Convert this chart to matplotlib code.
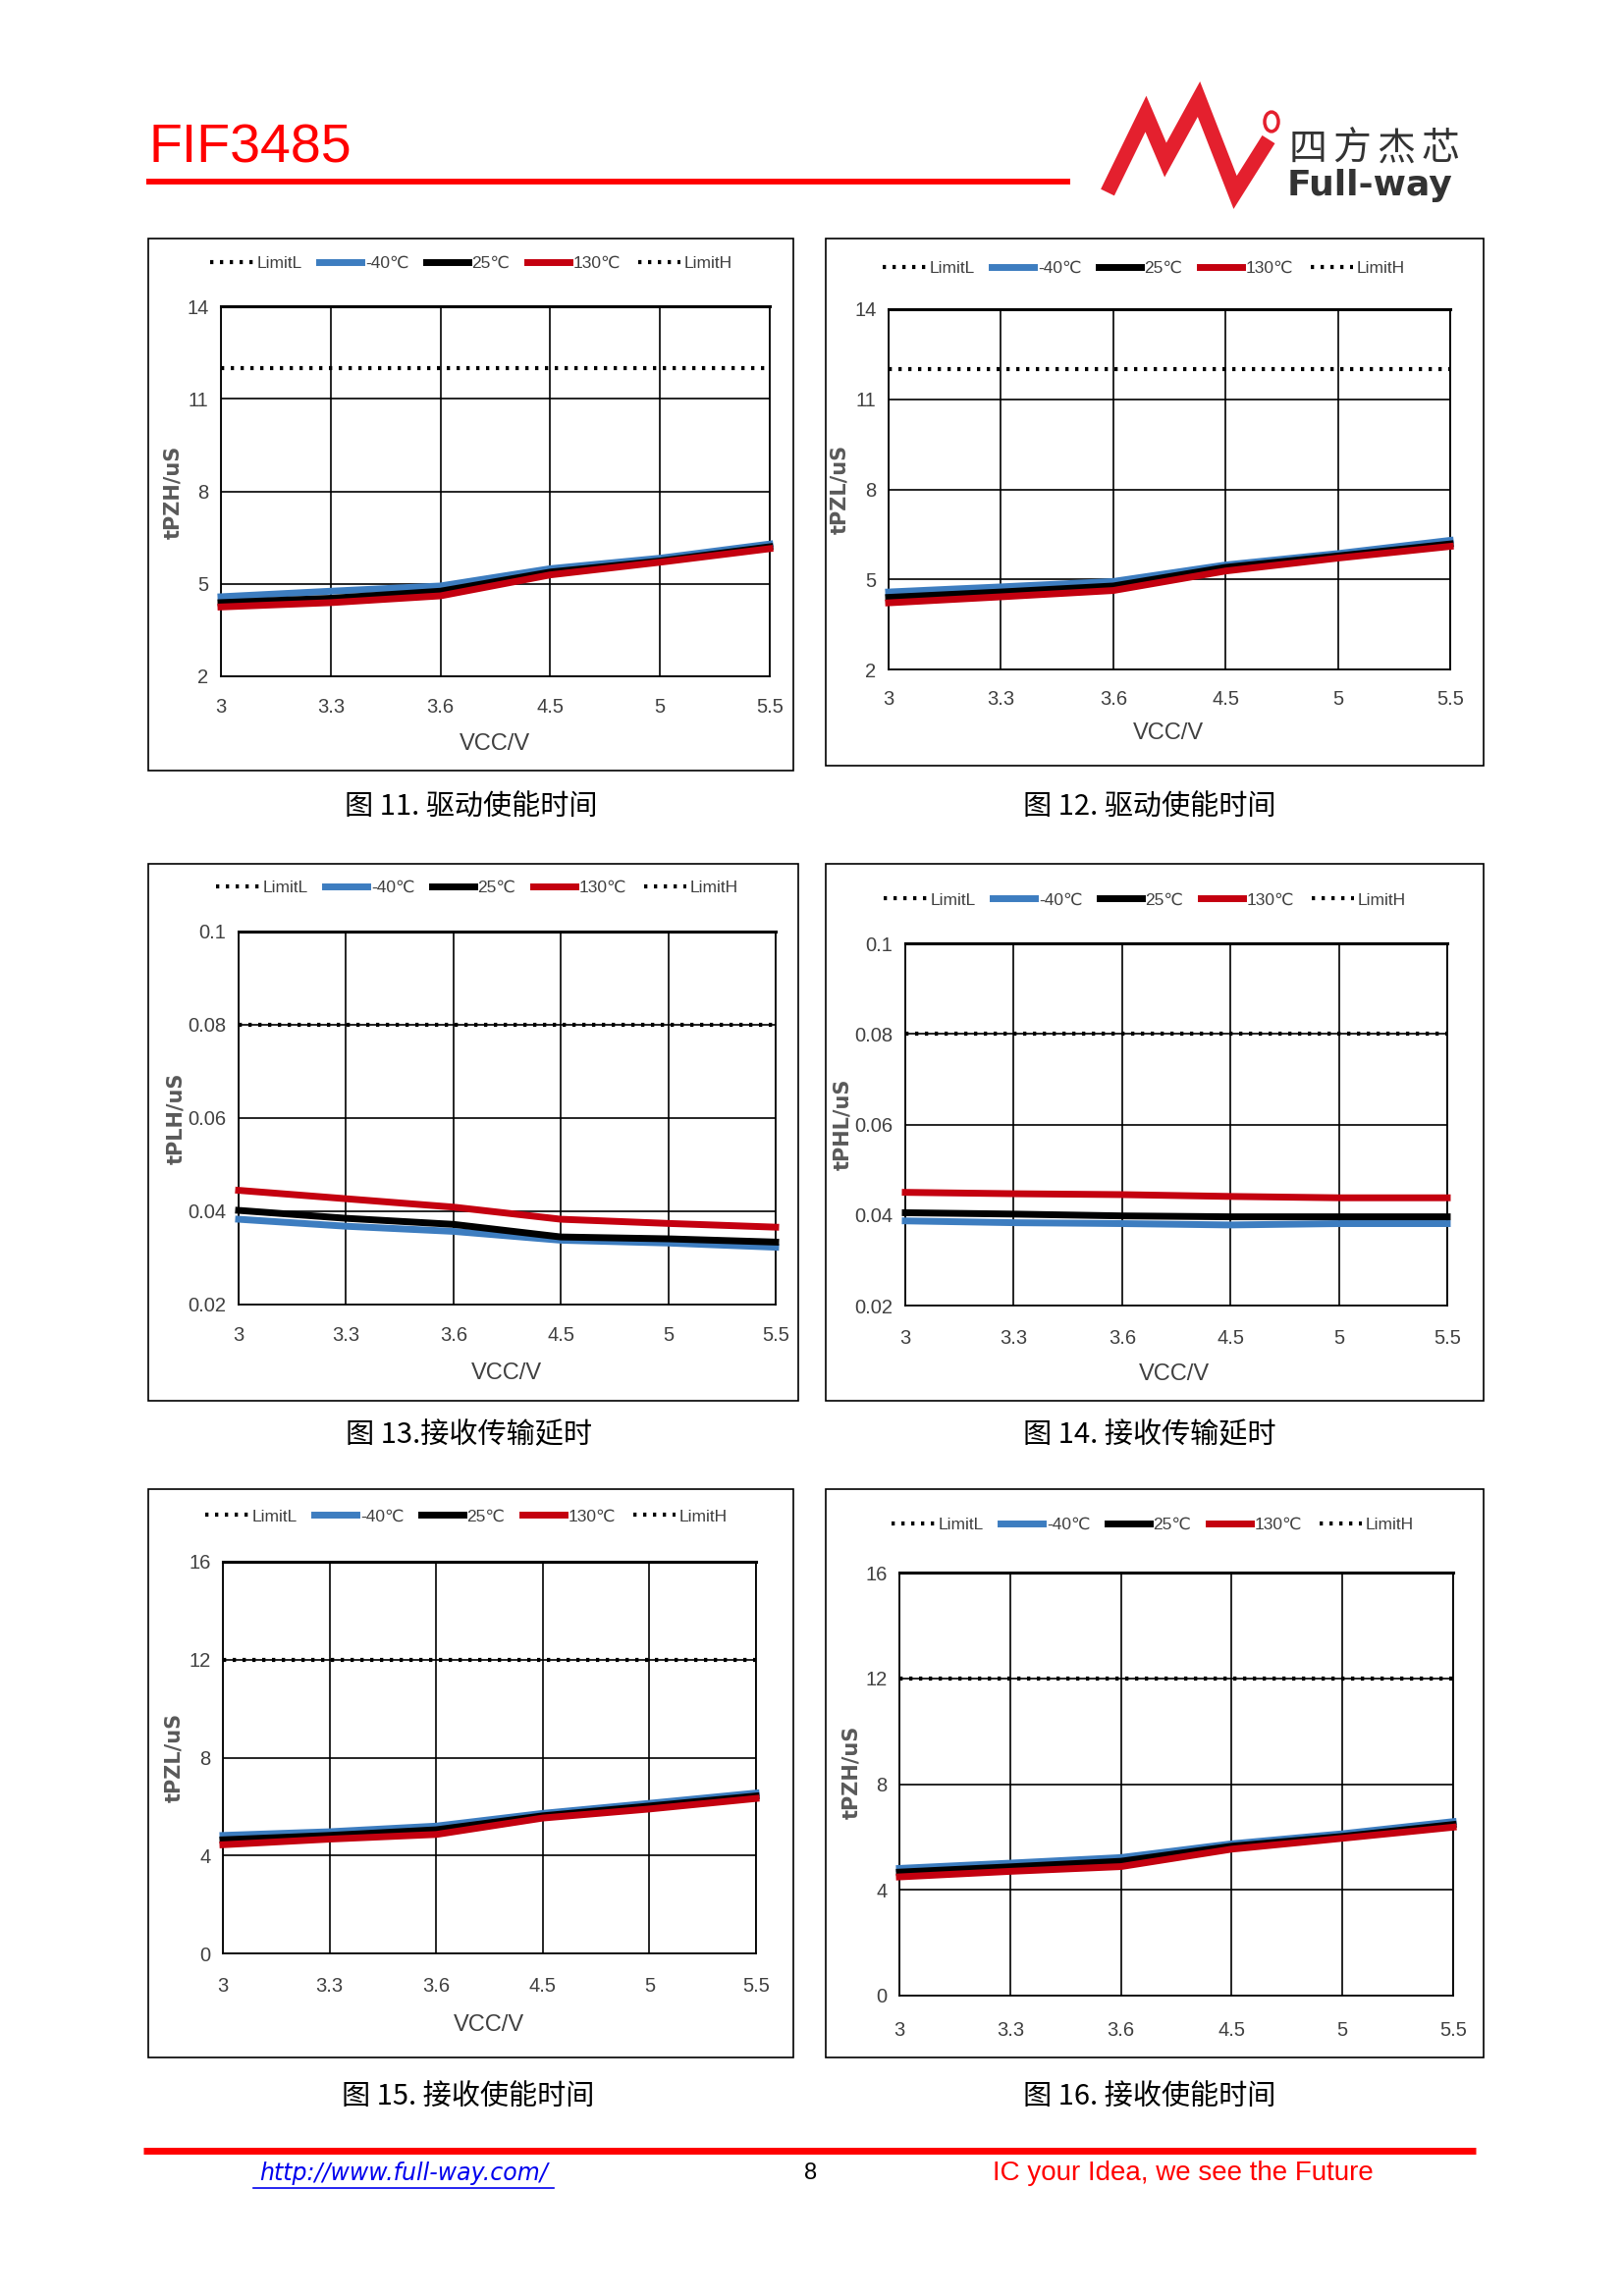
import matplotlib
matplotlib.use('Agg')
import matplotlib.pyplot as plt
from matplotlib.lines import Line2D
from matplotlib.patches import Rectangle, Circle

# ---------------- data ----------------
vcc_labels = ['3', '3.3', '3.6', '4.5', '5', '5.5']
legend_labels = ['LimitL', '-40℃', '25℃', '130℃', 'LimitH']

# Fig 11  tPZH (driver enable)
f11_m40 = [4.58, 4.76, 4.93, 5.49, 5.83, 6.29]
f11_25 = [4.39, 4.53, 4.76, 5.38, 5.74, 6.20]
f11_130 = [4.25, 4.39, 4.61, 5.29, 5.70, 6.14]
f11_limith = 12

# Fig 12  tPZL (driver enable)
f12_m40 = [4.58, 4.75, 4.93, 5.48, 5.86, 6.30]
f12_25 = [4.40, 4.58, 4.78, 5.40, 5.78, 6.18]
f12_130 = [4.22, 4.42, 4.63, 5.28, 5.71, 6.10]
f12_limith = 12

# Fig 13  tPLH (receiver delay)
f13_m40 = [0.0383, 0.0368, 0.0357, 0.0338, 0.0332, 0.0323]
f13_25 = [0.0402, 0.0385, 0.0372, 0.0345, 0.0341, 0.0334]
f13_130 = [0.0445, 0.0427, 0.0409, 0.0383, 0.0374, 0.0366]
f13_limith = 0.08

# Fig 14  tPHL (receiver delay)
f14_m40 = [0.0387, 0.0383, 0.0381, 0.0378, 0.0381, 0.0381]
f14_25 = [0.0405, 0.0402, 0.0398, 0.0396, 0.0396, 0.0396]
f14_130 = [0.0450, 0.0447, 0.0445, 0.0441, 0.0438, 0.0438]
f14_limith = 0.08

# Fig 15  tPZL (receiver enable)
f15_m40 = [4.82, 4.97, 5.20, 5.72, 6.13, 6.55]
f15_25 = [4.64, 4.82, 5.05, 5.62, 6.02, 6.43]
f15_130 = [4.44, 4.67, 4.86, 5.53, 5.90, 6.33]
f15_limith = 12

# Fig 16  tPZH (receiver enable)
f16_m40 = [4.81, 5.01, 5.22, 5.74, 6.12, 6.58]
f16_25 = [4.67, 4.87, 5.08, 5.65, 6.02, 6.47]
f16_130 = [4.49, 4.70, 4.88, 5.54, 5.95, 6.37]
f16_limith = 12

yt_a = [2, 5, 8, 11, 14]
yt_a_lbl = ['2', '5', '8', '11', '14']
yt_b = [0.02, 0.04, 0.06, 0.08, 0.1]
yt_b_lbl = ['0.02', '0.04', '0.06', '0.08', '0.1']
yt_c = [0, 4, 8, 12, 16]
yt_c_lbl = ['0', '4', '8', '12', '16']

logo_chars = ['四', '方', '杰', '芯']

# ---------------- layout ----------------
W, H = 1654, 2339
fig = plt.figure(figsize=(16.54, 23.39), dpi=100)
fig.patch.set_facecolor('white')

def fx(x):
    return x / W

def fy(y):
    return 1 - y / H

SANS = ['Liberation Sans', 'DejaVu Sans']
CJK = ['Noto Sans CJK SC', 'DejaVu Sans']
BLUE = '#3D7DC0'
RED = '#C4000F'
TICKC = '#404040'

panels = [
    dict(s=(f11_m40, f11_25, f11_130), lim=f11_limith, yt=yt_a, ytl=yt_a_lbl, ylab='tPZH/uS',
         plot=(225, 312, 784, 689), box=(151, 243, 808, 785), leg=(480, 268),
         xl=(504, 758), yl=(176, 501), cap='图 11. 驱动使能时间', cp=(480, 823), xpad=17),
    dict(s=(f12_m40, f12_25, f12_130), lim=f12_limith, yt=yt_a, ytl=yt_a_lbl, ylab='tPZL/uS',
         plot=(905, 315, 1477, 682), box=(841, 243, 1511, 780), leg=(1165, 273),
         xl=(1190, 747), yl=(855, 498), cap='图 12. 驱动使能时间', cp=(1171, 823), xpad=16),
    dict(s=(f13_m40, f13_25, f13_130), lim=f13_limith, yt=yt_b, ytl=yt_b_lbl, ylab='tPLH/uS',
         plot=(243, 949, 790, 1329), box=(151, 880, 813, 1427), leg=(486, 904),
         xl=(516, 1399), yl=(179, 1139), cap='图 13.接收传输延时', cp=(477, 1462), xpad=17),
    dict(s=(f14_m40, f14_25, f14_130), lim=f14_limith, yt=yt_b, ytl=yt_b_lbl, ylab='tPHL/uS',
         plot=(922, 961, 1474, 1330), box=(841, 880, 1511, 1427), leg=(1166, 917),
         xl=(1196, 1400), yl=(858, 1145), cap='图 14. 接收传输延时', cp=(1171, 1462), xpad=18),
    dict(s=(f15_m40, f15_25, f15_130), lim=f15_limith, yt=yt_c, ytl=yt_c_lbl, ylab='tPZL/uS',
         plot=(227, 1591, 770, 1990), box=(151, 1517, 808, 2096), leg=(475, 1545),
         xl=(498, 2063), yl=(177, 1790), cap='图 15. 接收使能时间', cp=(477, 2136), xpad=18),
    dict(s=(f16_m40, f16_25, f16_130), lim=f16_limith, yt=yt_c, ytl=yt_c_lbl, ylab='tPZH/uS',
         plot=(916, 1602, 1480, 2033), box=(841, 1517, 1511, 2096), leg=(1174, 1553),
         xl=None, yl=(867, 1805), cap='图 16. 接收使能时间', cp=(1171, 2136), xpad=20),
]

xs = list(range(len(vcc_labels)))
dots = (0, (0.8, 1.6))

for p in panels:
    bx0, by0, bx1, by1 = p['box']
    fig.add_artist(Rectangle((fx(bx0), fy(by1)), (bx1 - bx0) / W, (by1 - by0) / H,
                             transform=fig.transFigure, fill=False, edgecolor='black', lw=1.2))
    x0, y0, x1, y1 = p['plot']
    ax = fig.add_axes([fx(x0), fy(y1), (x1 - x0) / W, (y1 - y0) / H])
    ax.set_xlim(0, len(vcc_labels) - 1)
    ax.set_ylim(p['yt'][0], p['yt'][-1])
    ax.set_xticks(xs)
    ax.set_xticklabels(vcc_labels)
    ax.set_yticks(p['yt'])
    ax.set_yticklabels(p['ytl'])
    ax.grid(True, color='black', lw=1.2)
    ax.set_axisbelow(True)
    for side, sp in ax.spines.items():
        sp.set_color('black')
        sp.set_linewidth(2.2 if side == 'top' else 1.3)
    ax.tick_params(length=0, labelsize=14.5, colors=TICKC)
    ax.tick_params(axis='y', pad=9)
    ax.tick_params(axis='x', pad=p['xpad'] - 1)
    for lbl in ax.get_xticklabels() + ax.get_yticklabels():
        lbl.set_family(SANS)

    m40, t25, t130 = p['s']
    ax.plot(xs, m40, color=BLUE, lw=5, clip_on=False, zorder=3)
    ax.plot(xs, t25, color='black', lw=5, clip_on=False, zorder=3)
    ax.plot(xs, t130, color=RED, lw=5, clip_on=False, zorder=3)
    ax.plot(xs, [p['lim']] * len(xs), color='black', lw=3, ls=dots, zorder=2)

    handles = [Line2D([], [], color='black', lw=3, ls=dots),
               Line2D([], [], color=BLUE, lw=5),
               Line2D([], [], color='black', lw=5),
               Line2D([], [], color=RED, lw=5),
               Line2D([], [], color='black', lw=3, ls=dots)]
    leg = ax.legend(handles, legend_labels, loc='center',
                    bbox_to_anchor=(fx(p['leg'][0]), fy(p['leg'][1])),
                    bbox_transform=fig.transFigure, ncol=5, frameon=False,
                    handlelength=2.5, handletextpad=0.2, columnspacing=1.0,
                    prop={'family': SANS, 'size': 12.5})
    for t in leg.get_texts():
        t.set_color(TICKC)

    fig.text(fx(p['yl'][0]), fy(p['yl'][1]), p['ylab'], rotation=90, ha='center', va='center',
             fontsize=15, fontweight='bold', color='#595959', family='DejaVu Sans')
    if p['xl'] is not None:
        fig.text(fx(p['xl'][0]), fy(p['xl'][1]), 'VCC/V', ha='center', va='center',
                 fontsize=17, color=TICKC, family=SANS)
    fig.text(fx(p['cp'][0]), fy(p['cp'][1]), p['cap'], ha='center', va='center',
             fontsize=21, color='black', family=CJK)

# ---------------- header ----------------
fig.text(fx(152), fy(151), 'FIF3485', ha='left', va='center', fontsize=40,
         color='#FF0000', family=SANS)
fig.add_artist(Line2D([fx(149), fx(1090)], [fy(184.5), fy(184.5)], transform=fig.transFigure,
                      color='#FF0000', lw=4.2, solid_capstyle='butt'))
LOGO = '#E4202E'
lx = [1128, 1167, 1187, 1221, 1258, 1292]
ly = [196, 116, 163, 101, 196, 142]
fig.add_artist(Line2D([fx(v) for v in lx], [fy(v) for v in ly], transform=fig.transFigure,
                      color=LOGO, lw=11, solid_joinstyle='miter', solid_capstyle='butt'))
fig.add_artist(Circle((fx(1295), fy(124)), 7 / W, transform=fig.transFigure, fill=False,
                      edgecolor=LOGO, lw=2.5))
for i, ch in enumerate(logo_chars):
    fig.text(fx(1332 + 45 * i), fy(152), ch, ha='center', va='center', fontsize=28,
             color='#333333', family=CJK)
fig.text(fx(1311), fy(189), 'Full-way', ha='left', va='center', fontsize=26,
         fontweight='bold', color='#333333', family='DejaVu Sans')

# ---------------- footer ----------------
fig.add_artist(Line2D([fx(146), fx(1503)], [fy(2191), fy(2191)], transform=fig.transFigure,
                      color='#FF0000', lw=5, solid_capstyle='butt'))
fig.text(fx(411), fy(2214), 'http://www.full-way.com/', ha='center', va='center',
         fontsize=17, style='italic', color='#0000EE', family='DejaVu Sans')
fig.add_artist(Line2D([fx(258), fx(564)], [fy(2229), fy(2229)], transform=fig.transFigure,
                      color='#0000EE', lw=1.2))
fig.text(fx(826), fy(2214), '8', ha='center', va='center', fontsize=17, color='black',
         family=SANS)
fig.text(fx(1205), fy(2214), 'IC your Idea, we see the Future', ha='center', va='center',
         fontsize=20, color='#FF0000', family=SANS)

fig.savefig('out.png', dpi=100, facecolor='white')
